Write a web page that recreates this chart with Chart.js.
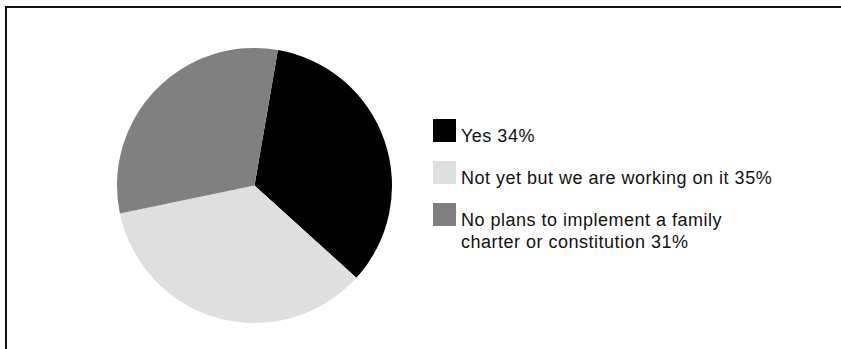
<!DOCTYPE html>
<html>
<head>
<meta charset="utf-8">
<script src="https://cdn.jsdelivr.net/npm/chart.js@4/dist/chart.umd.min.js"></script>
<style>
  html, body { margin: 0; padding: 0; background: #fff; overflow: hidden; }
  body { width: 841px; height: 349px; position: relative;
         font-family: "Liberation Sans", Arial, Helvetica, sans-serif; }
  #lineTop { position: absolute; left: 5px; top: 6px; width: 836px; height: 2px; background: #111; }
  #lineLeft { position: absolute; left: 5px; top: 6px; width: 2px; height: 343px; background: #111; }
  #pieBox { position: absolute; left: 117px; top: 48px; width: 275px; height: 275px; }
  #legend { position: absolute; left: 433px; top: 119px; width: 400px; }
  .item { position: absolute; left: 0; }
  .sw { position: absolute; left: 0; top: 0; width: 23px; height: 23px; }
  .txt { position: absolute; left: 28px; top: 7px; width: 314px;
         font-size: 18px; letter-spacing: 0.5px; line-height: 21.5px; color: #111; }
</style>
</head>
<body>
<div id="lineTop"></div>
<div id="lineLeft"></div>
<div id="pieBox"><canvas id="pie"></canvas></div>
<div id="legend"></div>
<script>
// answers
var labels = ['Yes', 'Not yet but we are working on it', 'No plans to implement a family charter or constitution'];
var shares = [34, 35, 31];
var colors = ['#000000', '#dfdfdf', '#808080'];

var ctx = document.getElementById('pie').getContext('2d');
var chart = new Chart(ctx, {
    type: 'pie',
    data: {
        labels: labels,
        datasets: [{
            data: shares,
            backgroundColor: colors,
            borderWidth: 0
        }]
    },
    options: {
        responsive: true,
        maintainAspectRatio: false,
        animation: false,
        rotation: 9.8,
        layout: { padding: 0 },
        plugins: {
            legend: { display: false },
            tooltip: { enabled: false }
        }
    }
});

// legend on the right, one row per slice
var box = document.getElementById('legend');
labels.forEach(function(name, i){
    var row = document.createElement('div');
    row.className = 'item';
    row.style.top = (i * 42) + 'px';
    var sw = document.createElement('div');
    sw.className = 'sw';
    sw.style.background = colors[i];
    var t = document.createElement('div');
    t.className = 'txt';
    t.textContent = name + ' ' + shares[i] + '%';
    row.appendChild(sw);
    row.appendChild(t);
    box.appendChild(row);
});
</script>
</body>
</html>
